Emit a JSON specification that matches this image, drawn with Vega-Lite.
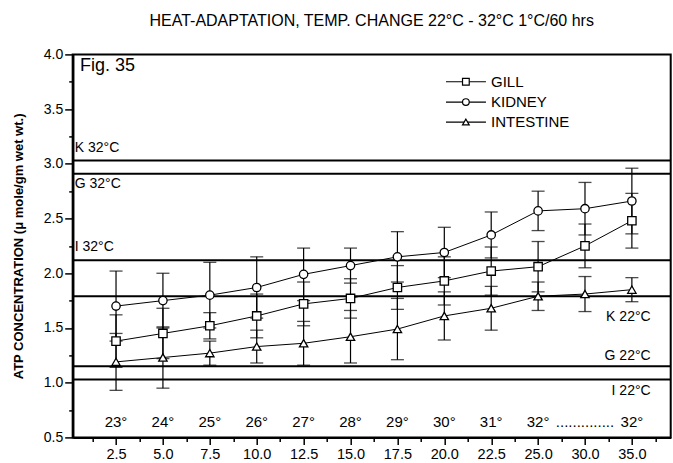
{
  "$schema": "https://vega.github.io/schema/vega-lite/v6.json",
  "width": 598,
  "height": 383,
  "autosize": "none",
  "padding": {"left": 72.7, "top": 54.4, "right": 2.3, "bottom": 25.6},
  "background": "white",
  "config": {
    "font": "Liberation Sans",
    "view": {"stroke": "black", "strokeWidth": 2},
    "axis": {"labelFont": "Liberation Sans", "titleFont": "Liberation Sans", "labelColor": "black", "titleColor": "black", "domainColor": "black", "tickColor": "black", "grid": false},
    "text": {"font": "Liberation Sans", "color": "black"}
  },
  "title": {
    "text": "HEAT-ADAPTATION, TEMP. CHANGE 22°C - 32°C 1°C/60 hrs",
    "fontSize": 16,
    "fontWeight": "normal",
    "color": "black",
    "anchor": "middle",
    "frame": "group",
    "offset": 18
  },
  "datasets": {
    "atp": [
      {"hours": 2.5, "organ": "GILL", "atp": 1.38, "sd": 0.24},
      {"hours": 5.0, "organ": "GILL", "atp": 1.45, "sd": 0.23},
      {"hours": 7.5, "organ": "GILL", "atp": 1.52, "sd": 0.12},
      {"hours": 10.0, "organ": "GILL", "atp": 1.61, "sd": 0.20},
      {"hours": 12.5, "organ": "GILL", "atp": 1.72, "sd": 0.20},
      {"hours": 15.0, "organ": "GILL", "atp": 1.77, "sd": 0.18},
      {"hours": 17.5, "organ": "GILL", "atp": 1.87, "sd": 0.20},
      {"hours": 20.0, "organ": "GILL", "atp": 1.93, "sd": 0.22},
      {"hours": 22.5, "organ": "GILL", "atp": 2.02, "sd": 0.22},
      {"hours": 25.0, "organ": "GILL", "atp": 2.06, "sd": 0.23},
      {"hours": 30.0, "organ": "GILL", "atp": 2.25, "sd": 0.20},
      {"hours": 35.0, "organ": "GILL", "atp": 2.48, "sd": 0.25},
      {"hours": 2.5, "organ": "KIDNEY", "atp": 1.70, "sd": 0.32},
      {"hours": 5.0, "organ": "KIDNEY", "atp": 1.75, "sd": 0.25},
      {"hours": 7.5, "organ": "KIDNEY", "atp": 1.80, "sd": 0.30},
      {"hours": 10.0, "organ": "KIDNEY", "atp": 1.87, "sd": 0.28},
      {"hours": 12.5, "organ": "KIDNEY", "atp": 1.99, "sd": 0.24},
      {"hours": 15.0, "organ": "KIDNEY", "atp": 2.07, "sd": 0.16},
      {"hours": 17.5, "organ": "KIDNEY", "atp": 2.15, "sd": 0.23},
      {"hours": 20.0, "organ": "KIDNEY", "atp": 2.19, "sd": 0.23},
      {"hours": 22.5, "organ": "KIDNEY", "atp": 2.35, "sd": 0.21},
      {"hours": 25.0, "organ": "KIDNEY", "atp": 2.57, "sd": 0.18},
      {"hours": 30.0, "organ": "KIDNEY", "atp": 2.59, "sd": 0.24},
      {"hours": 35.0, "organ": "KIDNEY", "atp": 2.66, "sd": 0.30},
      {"hours": 2.5, "organ": "INTESTINE", "atp": 1.19, "sd": 0.26},
      {"hours": 5.0, "organ": "INTESTINE", "atp": 1.23, "sd": 0.28},
      {"hours": 7.5, "organ": "INTESTINE", "atp": 1.27, "sd": 0.11},
      {"hours": 10.0, "organ": "INTESTINE", "atp": 1.33, "sd": 0.15},
      {"hours": 12.5, "organ": "INTESTINE", "atp": 1.36, "sd": 0.20},
      {"hours": 15.0, "organ": "INTESTINE", "atp": 1.42, "sd": 0.24},
      {"hours": 17.5, "organ": "INTESTINE", "atp": 1.49, "sd": 0.28},
      {"hours": 20.0, "organ": "INTESTINE", "atp": 1.61, "sd": 0.22},
      {"hours": 22.5, "organ": "INTESTINE", "atp": 1.68, "sd": 0.20},
      {"hours": 25.0, "organ": "INTESTINE", "atp": 1.79, "sd": 0.13},
      {"hours": 30.0, "organ": "INTESTINE", "atp": 1.81, "sd": 0.16},
      {"hours": 35.0, "organ": "INTESTINE", "atp": 1.85, "sd": 0.11}
    ],
    "refs": [
      {"line": "K 32°C", "value": 3.03},
      {"line": "G 32°C", "value": 2.91},
      {"line": "I 32°C", "value": 2.12},
      {"line": "K 22°C", "value": 1.79},
      {"line": "G 22°C", "value": 1.15},
      {"line": "I 22°C", "value": 1.03}
    ],
    "temps": [
      {"hours": 2.5, "temp": "23°"},
      {"hours": 5.0, "temp": "24°"},
      {"hours": 7.5, "temp": "25°"},
      {"hours": 10.0, "temp": "26°"},
      {"hours": 12.5, "temp": "27°"},
      {"hours": 15.0, "temp": "28°"},
      {"hours": 17.5, "temp": "29°"},
      {"hours": 20.0, "temp": "30°"},
      {"hours": 22.5, "temp": "31°"},
      {"hours": 25.0, "temp": "32°"},
      {"hours": 30.0, "temp": ".............."},
      {"hours": 35.0, "temp": "32°"}
    ]
  },
  "layer": [
    {
      "data": {"name": "atp"},
      "mark": {"type": "line", "color": "black", "strokeWidth": 1},
      "encoding": {
        "x": {
          "field": "hours",
          "type": "quantitative",
          "title": null,
          "scale": {"domain": [0.19, 25, 39.14], "range": [0, 465.4, 598], "nice": false, "zero": false},
          "axis": {
            "values": [1.25, 2.5, 3.75, 5, 6.25, 7.5, 8.75, 10, 11.25, 12.5, 13.75, 15, 16.25, 17.5, 18.75, 20, 21.25, 22.5, 23.75, 25, 27.5, 30, 32.5, 35, 37.5],
            "tickCount": 100,
            "labelExpr": "((datum.value <= 25 && datum.value % 2.5 === 0) || (datum.value > 25 && datum.value % 5 === 0)) ? format(datum.value, '.1f') : ''",
            "labelOverlap": false,
            "labelFlush": false,
            "labelFontSize": 14.5,
            "labelPadding": 3,
            "tickSize": {"condition": {"test": "((datum.value <= 25 && datum.value % 2.5 === 0) || (datum.value > 25 && datum.value % 5 === 0))", "value": 7}, "value": 4},
            "tickWidth": 1.5,
            "domainWidth": 2
          }
        },
        "y": {
          "field": "atp",
          "type": "quantitative",
          "title": "ATP CONCENTRATION (μ mole/gm wet wt.)",
          "scale": {"domain": [0.5, 4.0], "nice": false, "zero": false},
          "axis": {
            "titleFontSize": 13,
            "titleFontWeight": "bold",
            "titlePadding": 18,
            "values": [0.5, 0.75, 1.0, 1.25, 1.5, 1.75, 2.0, 2.25, 2.5, 2.75, 3.0, 3.25, 3.5, 3.75, 4.0],
            "tickCount": 100,
            "labelExpr": "(datum.value % 0.5 === 0) ? format(datum.value, '.1f') : ''",
            "labelOverlap": false,
            "labelFontSize": 14,
            "labelPadding": 2,
            "tickSize": {"condition": {"test": "(datum.value % 0.5 === 0)", "value": 8}, "value": 4},
            "tickWidth": 1.5,
            "domainWidth": 2.5
          }
        },
        "detail": {"field": "organ"}
      }
    },
    {
      "data": {"name": "refs"},
      "mark": {"type": "rule", "color": "black", "strokeWidth": 2},
      "encoding": {
        "y": {"field": "value", "type": "quantitative", "title": "ATP CONCENTRATION (μ mole/gm wet wt.)"}
      }
    },
    {
      "data": {"name": "atp"},
      "mark": {"type": "errorbar", "color": "black", "thickness": 1.2, "ticks": {"size": 13, "thickness": 1.3, "color": "black"}},
      "encoding": {
        "x": {"field": "hours", "type": "quantitative", "title": null},
        "y": {"field": "atp", "type": "quantitative", "title": "ATP CONCENTRATION (μ mole/gm wet wt.)"},
        "yError": {"field": "sd"}
      }
    },
    {
      "data": {"name": "atp"},
      "mark": {"type": "point", "filled": true, "fill": "white", "stroke": "black", "strokeWidth": 1.3, "size": 70, "opacity": 1},
      "encoding": {
        "x": {"field": "hours", "type": "quantitative", "title": null},
        "y": {"field": "atp", "type": "quantitative", "title": "ATP CONCENTRATION (μ mole/gm wet wt.)"},
        "shape": {
          "field": "organ",
          "type": "nominal",
          "scale": {"domain": ["GILL", "KIDNEY", "INTESTINE"], "range": ["square", "circle", "triangle-up"]},
          "legend": null
        }
      }
    },
    {
      "data": {"values": [{"organ": "GILL", "y": 3.75}, {"organ": "KIDNEY", "y": 3.564}, {"organ": "INTESTINE", "y": 3.382}]},
      "layer": [
        {
          "mark": {"type": "rule", "color": "black", "strokeWidth": 1.2},
          "encoding": {
            "x": {"datum": 20.09, "type": "quantitative"},
            "x2": {"datum": 22.22},
            "y": {"field": "y", "type": "quantitative", "title": "ATP CONCENTRATION (μ mole/gm wet wt.)"}
          }
        },
        {
          "mark": {"type": "point", "filled": true, "fill": "white", "stroke": "black", "strokeWidth": 1.2, "size": 45, "opacity": 1},
          "encoding": {
            "x": {"datum": 21.15, "type": "quantitative"},
            "y": {"field": "y", "type": "quantitative", "title": "ATP CONCENTRATION (μ mole/gm wet wt.)"},
            "shape": {"field": "organ", "type": "nominal", "legend": null}
          }
        },
        {
          "mark": {"type": "text", "align": "left", "baseline": "middle", "fontSize": 15},
          "encoding": {
            "x": {"datum": 22.49, "type": "quantitative"},
            "y": {"field": "y", "type": "quantitative", "title": "ATP CONCENTRATION (μ mole/gm wet wt.)"},
            "text": {"field": "organ"}
          }
        }
      ]
    },
    {
      "data": {"name": "refs"},
      "transform": [{"filter": {"field": "line", "oneOf": ["K 32°C", "I 32°C"]}}],
      "mark": {"type": "text", "align": "left", "baseline": "alphabetic", "dy": -9, "fontSize": 14},
      "encoding": {
        "x": {"datum": 0.3, "type": "quantitative"},
        "y": {"field": "value", "type": "quantitative", "title": "ATP CONCENTRATION (μ mole/gm wet wt.)"},
        "text": {"field": "line"}
      }
    },
    {
      "data": {"name": "refs"},
      "transform": [{"filter": {"field": "line", "equal": "G 32°C"}}],
      "mark": {"type": "text", "align": "left", "baseline": "alphabetic", "dy": 14, "fontSize": 14},
      "encoding": {
        "x": {"datum": 0.3, "type": "quantitative"},
        "y": {"field": "value", "type": "quantitative", "title": "ATP CONCENTRATION (μ mole/gm wet wt.)"},
        "text": {"field": "line"}
      }
    },
    {
      "data": {"name": "refs"},
      "transform": [{"filter": {"field": "line", "equal": "G 22°C"}}],
      "mark": {"type": "text", "align": "right", "baseline": "alphabetic", "dy": -6, "fontSize": 14},
      "encoding": {
        "x": {"datum": 37, "type": "quantitative"},
        "y": {"field": "value", "type": "quantitative", "title": "ATP CONCENTRATION (μ mole/gm wet wt.)"},
        "text": {"field": "line"}
      }
    },
    {
      "data": {"name": "refs"},
      "transform": [{"filter": {"field": "line", "equal": "K 22°C"}}],
      "mark": {"type": "text", "align": "right", "baseline": "alphabetic", "dy": 25, "fontSize": 14},
      "encoding": {
        "x": {"datum": 37, "type": "quantitative"},
        "y": {"field": "value", "type": "quantitative", "title": "ATP CONCENTRATION (μ mole/gm wet wt.)"},
        "text": {"field": "line"}
      }
    },
    {
      "data": {"name": "refs"},
      "transform": [{"filter": {"field": "line", "equal": "I 22°C"}}],
      "mark": {"type": "text", "align": "right", "baseline": "alphabetic", "dy": 16, "fontSize": 14},
      "encoding": {
        "x": {"datum": 37, "type": "quantitative"},
        "y": {"field": "value", "type": "quantitative", "title": "ATP CONCENTRATION (μ mole/gm wet wt.)"},
        "text": {"field": "line"}
      }
    },
    {
      "data": {"name": "temps"},
      "mark": {"type": "text", "align": "center", "baseline": "middle", "fontSize": 15},
      "encoding": {
        "x": {"field": "hours", "type": "quantitative", "title": null},
        "y": {"datum": 0.637, "type": "quantitative", "title": "ATP CONCENTRATION (μ mole/gm wet wt.)"},
        "text": {"field": "temp"}
      }
    },
    {
      "data": {"values": [{"label": "Fig. 35"}]},
      "mark": {"type": "text", "align": "left", "baseline": "middle", "fontSize": 18},
      "encoding": {
        "x": {"datum": 0.58, "type": "quantitative"},
        "y": {"datum": 3.89, "type": "quantitative", "title": "ATP CONCENTRATION (μ mole/gm wet wt.)"},
        "text": {"field": "label"}
      }
    }
  ]
}
